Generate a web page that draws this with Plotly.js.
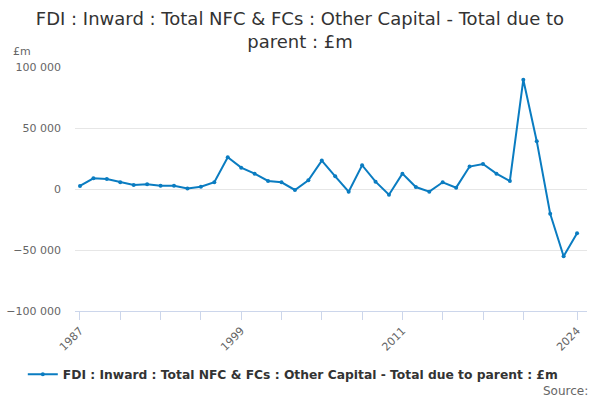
<!DOCTYPE html>
<html>
<head>
<meta charset="utf-8">
<script src="https://cdn.plot.ly/plotly-3.0.1.min.js"></script>
<style>
  html, body { margin: 0; padding: 0; background: #fff; }
  #chart { width: 600px; height: 400px; }
</style>
</head>
<body>
<div id="chart"></div>
<script>
var years = [1987, 1988, 1989, 1990, 1991, 1992, 1993, 1994, 1995, 1996,
  1997, 1998, 1999, 2000, 2001, 2002, 2003, 2004, 2005, 2006,
  2007, 2008, 2009, 2010, 2011, 2012, 2013, 2014, 2015, 2016,
  2017, 2018, 2019, 2020, 2021, 2022, 2023, 2024];
var values = [2500, 8800, 8200, 5500, 3300, 3800, 2700, 2700, 500, 1900,
  5500, 26000, 17500, 12600, 6600, 5500, -800, 7100, 23300, 10400,
  -2200, 19500, 6000, -4700, 12600, 1600, -2200, 5500, 1100, 18400,
  20500, 12600, 6600, 89600, 39200, -20300, -55100, -36200];
var tickYears = [1987, 1990, 1993, 1996, 1999, 2002, 2005, 2008, 2011, 2014, 2017, 2020, 2024];
var tickLabels = ['1987', '', '', '', '1999', '', '', '', '2011', '', '', '', '2024'];
var yTicks = [-100000, -50000, 0, 50000, 100000];
var seriesName = 'FDI : Inward : Total NFC & FCs : Other Capital - Total due to parent : £m';

var trace = {
  x: years,
  y: values,
  name: seriesName,
  type: 'scatter',
  mode: 'lines+markers',
  line: {color: '#0a7cc1', width: 2},
  marker: {color: '#0a7cc1', size: 4}
};

var layout = {
  width: 600,
  height: 400,
  font: {family: 'DejaVu Sans, sans-serif', color: '#666'},
  separators: '. ',
  title: {
    text: 'FDI : Inward : Total NFC & FCs : Other Capital - Total due to<br>parent : £m',
    font: {size: 18, color: '#333'},
    x: 0.5, xanchor: 'center',
    xref: 'container', yref: 'container',
    y: 0.9375, yanchor: 'middle'
  },
  margin: {l: 75, r: 13, t: 67, b: 89, autoexpand: false},
  xaxis: {
    range: [1986.63, 2024.74],
    tickvals: tickYears,
    ticktext: tickLabels,
    tickangle: -45,
    ticks: 'outside',
    ticklen: 8,
    tickcolor: '#ccd6eb',
    showgrid: false,
    showline: true,
    linecolor: '#ccd6eb',
    zeroline: false,
    tickfont: {size: 11, color: '#666'}
  },
  yaxis: {
    range: [-100000, 100000],
    tickvals: yTicks,
    tickformat: ',d',
    gridcolor: '#e6e6e6',
    zeroline: false,
    ticklabelstandoff: 13,
    tickfont: {size: 11, color: '#666'}
  },
  showlegend: true,
  legend: {
    orientation: 'h',
    xref: 'container',
    x: 0.488, xanchor: 'center',
    y: -0.2, yanchor: 'top',
    font: {size: 12.3, color: '#333', weight: 'bold'},
    itemwidth: 30
  },
  annotations: [
    {text: '£m', xref: 'paper', yref: 'paper', x: -0.125, y: 1.03, xanchor: 'left', yanchor: 'bottom',
     showarrow: false, font: {size: 11, color: '#666'}},
    {text: 'Source:', xref: 'paper', yref: 'paper', x: 1.005, y: -0.293, xanchor: 'right', yanchor: 'top',
     showarrow: false, font: {size: 12, color: '#666'}}
  ]
};

Plotly.newPlot('chart', [trace], layout, {displayModeBar: false});
</script>
</body>
</html>
